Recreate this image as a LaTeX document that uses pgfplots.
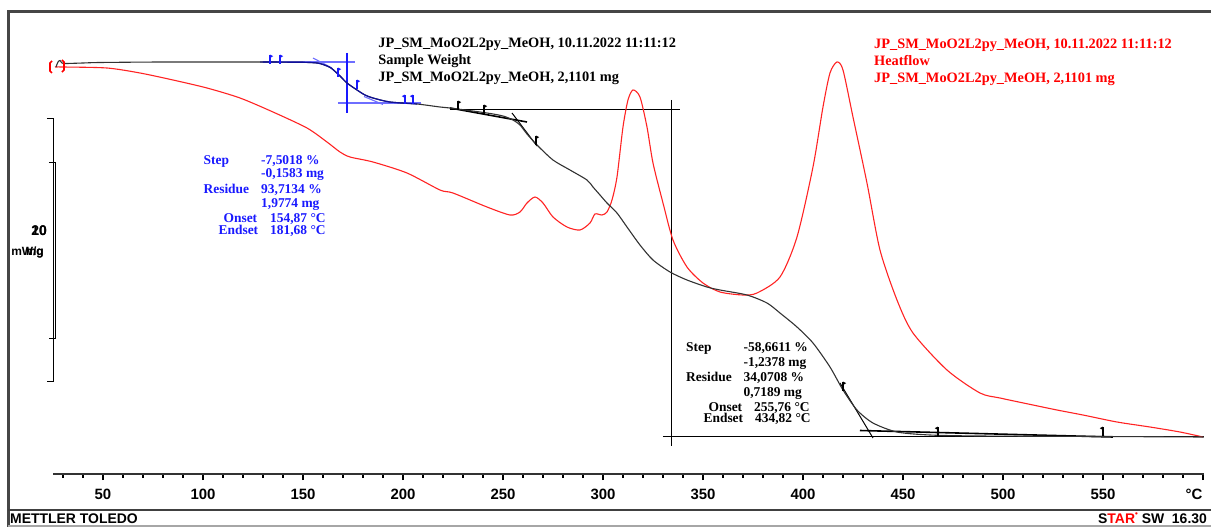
\documentclass[border=0pt]{standalone}
\usepackage{pgfplots}
\pgfplotsset{compat=1.18}
\usepackage{fontspec}
\setmainfont{Liberation Serif}
\newfontfamily\arial{Liberation Sans}

\definecolor{tga}{RGB}{50,50,50}
\definecolor{hf}{RGB}{255,35,35}
\definecolor{bl}{RGB}{25,25,255}
\definecolor{blc}{RGB}{110,110,255}
\definecolor{frame}{RGB}{70,70,70}

\pgfdeclareplotmark{flagR}{%
  \pgfsetlinewidth{1.1pt}%
  \pgfpathmoveto{\pgfqpoint{0pt}{-4pt}}\pgfpathlineto{\pgfqpoint{0pt}{5pt}}\pgfusepathqstroke
  \pgfpathmoveto{\pgfqpoint{0pt}{5.5pt}}\pgfpathlineto{\pgfqpoint{3.2pt}{3.8pt}}\pgfpathlineto{\pgfqpoint{0pt}{2pt}}\pgfpathclose\pgfusepathqfill}
\pgfdeclareplotmark{flagL}{%
  \pgfsetlinewidth{1.1pt}%
  \pgfpathmoveto{\pgfqpoint{0pt}{-4pt}}\pgfpathlineto{\pgfqpoint{0pt}{5pt}}\pgfusepathqstroke
  \pgfpathmoveto{\pgfqpoint{0pt}{5.5pt}}\pgfpathlineto{\pgfqpoint{-3.2pt}{3.8pt}}\pgfpathlineto{\pgfqpoint{0pt}{2pt}}\pgfpathclose\pgfusepathqfill}

\newcommand\hdr{\bfseries\fontsize{14.4}{17}\selectfont}
\newcommand\ann{\bfseries\fontsize{13.5}{15}\selectfont}

\begin{document}
\begin{tikzpicture}
\useasboundingbox (0,0) rectangle (1211bp,527bp);
\clip (0,0) rectangle (1211bp,527bp);
\begin{axis}[at={(0,0)}, anchor=south west, scale only axis,
  width=1211bp, height=527bp,
  xmin=-1.5, xmax=604, ymin=0, ymax=527, y dir=reverse,
  hide axis, clip=false]

% ---- frame ----
\addplot[frame, line width=2.5bp] coordinates {(2.75,527) (2.75,11.5) (604,11.5)};
\addplot[black!75, line width=1.3bp] coordinates {(2.75,510) (604,510)};
\addplot[black!35, line width=1.3bp] coordinates {(2.75,526) (604,526)};

% ---- scale bars ----
\addplot[black, line width=0.9bp] coordinates {(22,118) (25,118) (25,381) (22,381)};
\addplot[black, line width=0.9bp] coordinates {(23,162) (26,162) (26,338) (23,338)};
\node[anchor=base east, font=\arial\bfseries\fontsize{14}{14}\selectfont, inner sep=0pt] at (axis cs:22,235) {20};
\node[anchor=base east, font=\arial\bfseries\fontsize{14}{14}\selectfont, inner sep=0pt] at (axis cs:22,235) {10};
\node[anchor=base east, font=\arial\bfseries\fontsize{12}{12}\selectfont, inner sep=0pt] at (axis cs:20.5,255) {mW/g};
\node[anchor=base east, font=\arial\bfseries\fontsize{12}{12}\selectfont, inner sep=0pt] at (axis cs:20.5,255) {mg};

% ---- construction lines, step 1 (blue) ----
\addplot[blc, line width=1.3bp] coordinates {(128.5,62) (176,62)};
\addplot[blc, line width=1.3bp] coordinates {(167.5,103) (209,103)};
\addplot[bl, line width=1.1bp] coordinates {(172,53) (172,113)};
\addplot[blc, line width=1.1bp] coordinates {(155,58) (164.5,68)};
\addplot[blc, line width=1.1bp] coordinates {(180.5,96.5) (190,104.5)};

% ---- construction lines, step 2 (black) ----
\addplot[black, line width=0.9bp] coordinates {(223.5,109.3) (338.5,109.3)};
\addplot[black, line width=0.9bp] coordinates {(334,100) (334,446)};
\addplot[black, line width=0.9bp] coordinates {(330,436.5) (600.5,436.5)};
\addplot[black, line width=1.6bp] coordinates {(223.5,108) (262,122)};
\addplot[black, line width=1.0bp] coordinates {(254.5,113) (267,146)};
\addplot[black, line width=1.0bp] coordinates {(418.5,383) (435,438)};
\addplot[black, line width=1.6bp] coordinates {(428.5,430.5) (555,437)};

% ---- heat flow (red) ----
\addplot[hf, line width=1.1bp, smooth, tension=0.45] coordinates {
(26,67) (30,67) (52,68) (68.5,73) (85,80) (102,88) (118.5,98) (135,112)
(152,128) (162,142) (168.5,152) (173.5,157) (185,162) (202,173) (218.5,190)
(225,193) (242,207) (253.5,215) (258.5,212) (262,203) (266,197) (270,203)
(275,217) (282,227) (288.5,230) (293.5,223) (296,214) (299.5,215) (302,212)
(304.5,200) (307,177) (310,127) (312.5,100) (315,90) (318.5,97) (322,127)
(325,163) (330,203) (335,240) (342,267) (350,283) (358.5,292) (370,295)
(377,293) (388.5,277) (397,237) (405,167) (410,107) (413.5,73) (417,62)
(420,70) (425,117) (432,183) (438.5,250) (447,300) (455,333) (472,370)
(488.5,393) (498.5,398) (515,405) (527,410) (540,415) (557,422) (573.5,427)
(588.5,432) (600,437)};

% ---- TGA (black) ----
\addplot[tga, line width=1.1bp, smooth, tension=0.45] coordinates {
(26.5,67) (27.5,62) (28.5,60.5) (29.5,63) (31.5,63.5) (40,63) (48.5,62.5)
(80,62) (130,62) (150,62.3) (157,63) (160,64.5) (164,68) (168.5,76) (172,83)
(177,90) (181,95) (185,98) (193.5,102) (207,104) (218.5,107) (223.5,108)
(242,113) (250,116) (255,120) (258.5,125) (262,134) (267,145) (275,160)
(283.5,170) (292,180) (295,187) (298.5,195) (302,203) (307,213) (312,227)
(318.5,245) (325,260) (333.5,272) (342,280) (352,287) (358.5,290) (372,295)
(382,303) (388.5,313) (397,327) (405,343) (413.5,367) (420,390) (427,410)
(435,423) (447,432) (463.5,435) (488.5,436) (550,436.5) (600.5,437)};

% blue evaluated segment
\addplot[bl!60!black, line width=1.2bp, smooth, tension=0.45] coordinates {
(130,62) (150,62.3) (157,63) (160,64.5) (164,68) (168.5,76) (172,83)
(177,90) (181,95) (185,98) (193.5,102) (207,104)};

% red brackets at start
\addplot[red, line width=1.6bp] coordinates {(24.5,61) (23.5,63) (23.5,71) (24.5,73)};
\addplot[red, line width=1.6bp] coordinates {(29.5,60) (30.5,62) (30.5,70) (29.5,72)};

% ---- flags ----
\addplot[bl, only marks, mark=flagR] coordinates {(133.5,60) (138.5,60) (167.5,73) (177,85)};
\addplot[bl, only marks, mark=flagL] coordinates {(201,100) (205,100)};
\addplot[black, only marks, mark=flagR] coordinates {(227.5,106) (240.5,110) (266.5,141) (420,387)};
\addplot[black, only marks, mark=flagL] coordinates {(467.5,432) (550,432)};

% ---- texts ----
\node[anchor=base west, font=\hdr, inner sep=0pt] at (axis cs:187.6,48) {JP\_SM\_MoO2L2py\_MeOH, 10.11.2022 11:11:12};
\node[anchor=base west, font=\hdr, inner sep=0pt] at (axis cs:187.6,64.5) {Sample Weight};
\node[anchor=base west, font=\hdr, inner sep=0pt] at (axis cs:187.6,82) {JP\_SM\_MoO2L2py\_MeOH, 2,1101 mg};

\node[anchor=base west, font=\hdr, text=red, inner sep=0pt] at (axis cs:435.5,48.5) {JP\_SM\_MoO2L2py\_MeOH, 10.11.2022 11:11:12};
\node[anchor=base west, font=\hdr, text=red, inner sep=0pt] at (axis cs:435.5,65.5) {Heatflow};
\node[anchor=base west, font=\hdr, text=red, inner sep=0pt] at (axis cs:435.5,83) {JP\_SM\_MoO2L2py\_MeOH, 2,1101 mg};

\begin{scope}[every node/.style={anchor=base west, font=\ann, text=bl, inner sep=0pt}]
\node at (axis cs:100.2,164) {Step};
\node at (axis cs:129,164) {-7,5018 \%};
\node at (axis cs:129,177) {-0,1583 mg};
\node at (axis cs:100.2,193) {Residue};
\node at (axis cs:129,193) {93,7134 \%};
\node at (axis cs:129,207) {1,9774 mg};
\node at (axis cs:110.2,222.5) {Onset};
\node at (axis cs:133.5,222.5) {154,87 °C};
\node at (axis cs:107.7,234) {Endset};
\node at (axis cs:133.5,234) {181,68 °C};
\end{scope}

\begin{scope}[every node/.style={anchor=base west, font=\ann, text=black, inner sep=0pt}]
\node at (axis cs:341.5,351.5) {Step};
\node at (axis cs:370.2,351.5) {-58,6611 \%};
\node at (axis cs:370.2,366) {-1,2378 mg};
\node at (axis cs:341.5,381) {Residue};
\node at (axis cs:370.2,381) {34,0708 \%};
\node at (axis cs:370.2,396) {0,7189 mg};
\node at (axis cs:352.7,411) {Onset};
\node at (axis cs:375.5,411) {255,76 °C};
\node at (axis cs:350.2,422) {Endset};
\node at (axis cs:376,422) {434,82 °C};
\end{scope}

\node[anchor=base west, font=\arial\bfseries\fontsize{14}{14}\selectfont, inner sep=0pt] at (axis cs:3.5,523) {METTLER TOLEDO};
\node[anchor=base west, font=\arial\bfseries\fontsize{14}{14}\selectfont, inner sep=0pt] at (axis cs:547.5,523) {S\textcolor{red}{TAR}\raisebox{0.45em}{\textcolor{red}{\fontsize{8}{8}\selectfont•}} SW\ \ 16.30};
\end{axis}

% ---- temperature axis ----
\begin{axis}[at={(53bp,53bp)}, anchor=south west, scale only axis,
  width=1151bp, height=20bp, xmin=25, xmax=600.5, ymin=0, ymax=1,
  axis x line*=bottom, hide y axis,
  x axis line style={-},
  axis line style={line width=2bp, black!80},
  xtick={50,100,...,600},
  xticklabels={50,100,150,200,250,300,350,400,450,500,550,\llap{°C\hspace{0.5bp}}},
  minor xtick={30,40,...,600},
  tick align=outside,
  major tick length=6bp, minor tick length=4bp,
  every tick/.style={black, line width=1.1bp},
  xticklabel style={anchor=base, yshift=-19bp, font=\arial\bfseries\fontsize{15}{15}\selectfont, inner sep=0pt},
  /pgf/number format/assume math mode=true]
\end{axis}
\end{tikzpicture}
\end{document}
